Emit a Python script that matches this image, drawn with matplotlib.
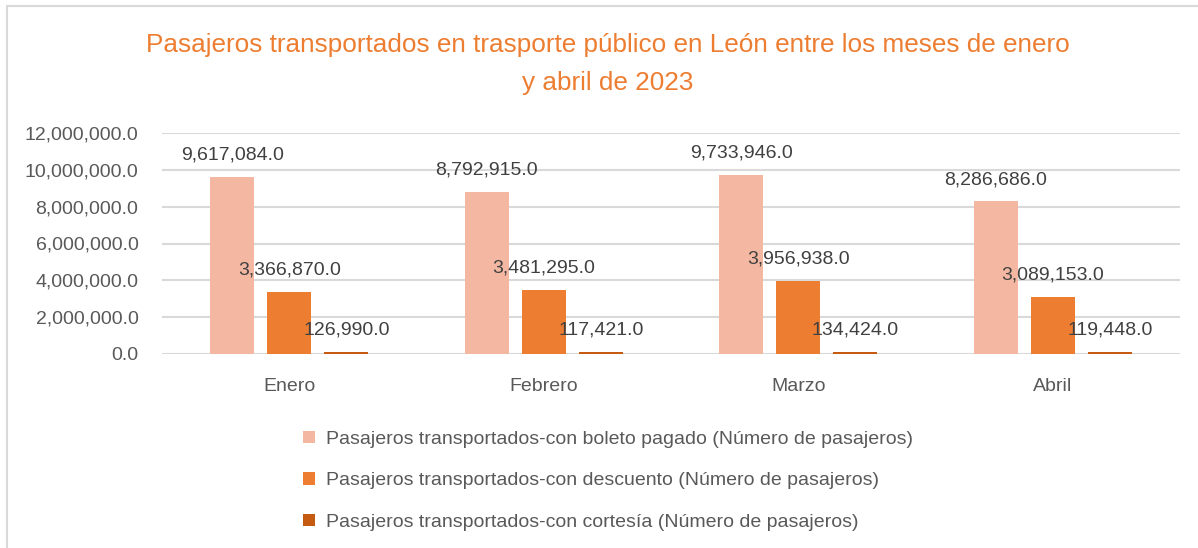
import matplotlib
matplotlib.use("Agg")
import matplotlib.pyplot as plt
import numpy as np
from matplotlib.patches import Patch, Rectangle

months = ["Enero", "Febrero", "Marzo", "Abril"]
boleto = [9617084, 8792915, 9733946, 8286686]
descuento = [3366870, 3481295, 3956938, 3089153]
cortesia = [126990, 117421, 134424, 119448]
series_names = [
    "Pasajeros transportados-con boleto pagado (Número de pasajeros)",
    "Pasajeros transportados-con descuento (Número de pasajeros)",
    "Pasajeros transportados-con cortesía (Número de pasajeros)",
]
colors = ["#F4B8A2", "#ED7D31", "#C55A11"]
yticks = [0, 2000000, 4000000, 6000000, 8000000, 10000000, 12000000]

plt.rcParams['font.family'] = ['Liberation Sans', 'DejaVu Sans']
TXT = "#595959"

W, H = 1198, 548
fig = plt.figure(figsize=(W/100, H/100), dpi=100)
# outer border
fig.patches.append(Rectangle((7/W, -0.1), 1.2, 1 - 6/H + 0.1, transform=fig.transFigure,
                             fill=False, edgecolor="#D9D9D9", linewidth=1.5))

ax = fig.add_axes([162/W, 1 - 354/H, (1180-162)/W, (354-133)/H])
x = np.arange(len(months))
bw = 0.173
off = 0.224
for i, (vals, c) in enumerate(zip([boleto, descuento, cortesia], colors)):
    pos = x + (i - 1) * off
    ax.bar(pos, vals, width=bw, color=c, zorder=3)
    for px, v in zip(pos, vals):
        ax.annotate(f"{v:,.1f}", (px, v), xytext=(0, 12.5), textcoords="offset points",
                    ha="center", va="baseline", fontsize=14, color="#404040", zorder=4)

ax.set_xlim(-0.5, 3.5)
ax.set_ylim(0, 12000000)
ax.set_yticks(yticks)
ax.set_yticklabels([f"{v:,.1f}" for v in yticks])
ax.set_xticks(x)
ax.set_xticklabels(months)
ax.grid(axis="y", color="#D9D9D9", linewidth=1.5, zorder=0)
ax.set_axisbelow(True)
for s in ax.spines.values():
    s.set_visible(False)
ax.tick_params(axis="both", length=0, labelsize=14, labelcolor=TXT)
ax.tick_params(axis="y", pad=17)
ax.tick_params(axis="x", pad=17)

fig.text(608/W, 1 - 64/H, "Pasajeros transportados en trasporte público en León entre los meses de enero\ny abril de 2023",
         ha="center", va="center", fontsize=18.8, color="#ED7D31", linespacing=1.75)

handles = [Patch(facecolor=c, edgecolor="none") for c in colors]
fig.legend(handles, series_names, loc="upper left", bbox_to_anchor=(297/W, 1 - 425/H),
           frameon=False, fontsize=14, labelcolor=TXT, handlelength=0.62, handleheight=0.62,
           handletextpad=0.55, labelspacing=1.25, borderaxespad=0, borderpad=0.3)

fig.savefig("out.png", dpi=100)
